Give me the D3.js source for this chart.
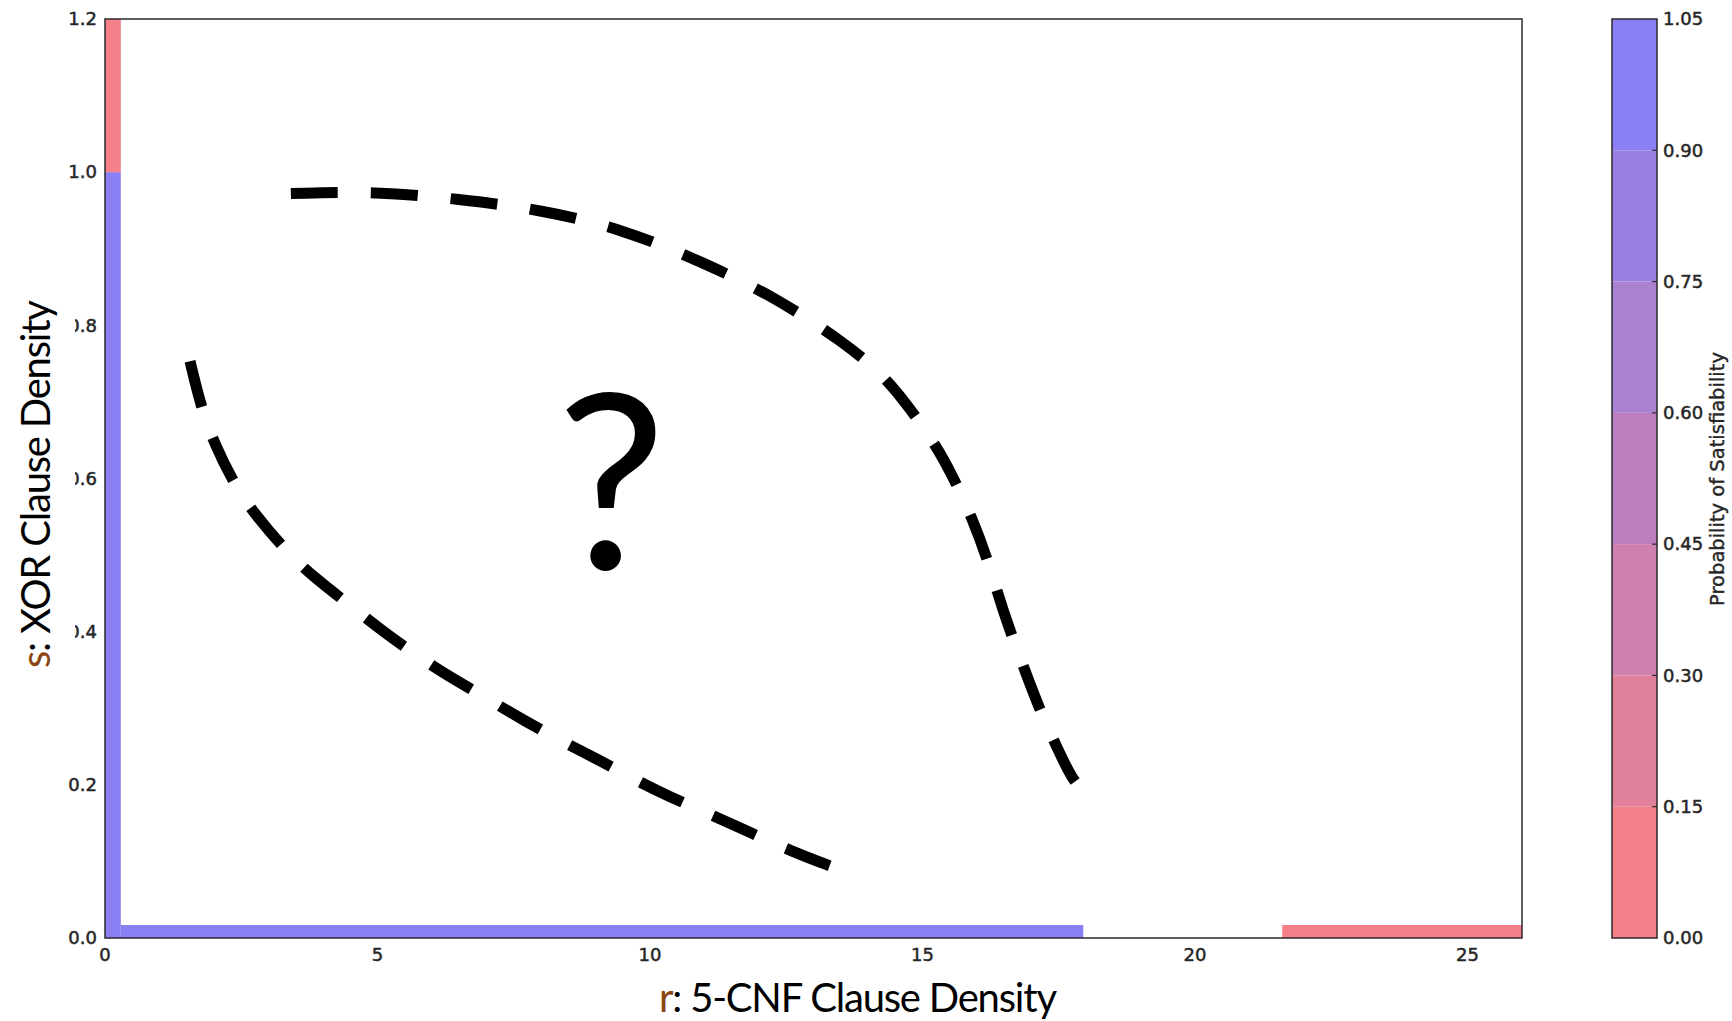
<!DOCTYPE html>
<html>
<head>
<meta charset="utf-8">
<script src="https://cdn.jsdelivr.net/npm/d3@7"></script>
<style>
  body { margin: 0; background: #fff; }
  svg { display: block; }
</style>
</head>
<body>
<div class="chart"></div>
<script>
// contour levels of the colour bar and their fills
const levels = [0, 0.15, 0.30, 0.45, 0.60, 0.75, 0.90, 1.05]
const levelColors = ["#F5808A", "#E1809B", "#D080AC", "#BC7EBE", "#AA80D0", "#9880E0", "#8A80F3"]

const xTicks = [0, 5, 10, 15, 20, 25]
const yTicks = [0, 0.2, 0.4, 0.6, 0.8, 1.0, 1.2]

// filled cells: r range, s range, probability of satisfiability
const cells = [
  {r0: 0, r1: 0.29, s0: 0, s1: 1.0, p: 1.0},
  {r0: 0, r1: 0.29, s0: 1.0, s1: 1.2, p: 0.0},
  {r0: 0.29, r1: 17.95, s0: 0, s1: 0.017, p: 1.0},
  {r0: 21.6, r1: 26, s0: 0, s1: 0.017, p: 0.0}
]

// hand drawn dashed boundaries, [r, s]
const outerCurve = [
  [3.41, 0.972], [4.97, 0.975], [6.49, 0.965], [8.01, 0.951], [9.53, 0.925],
  [10.95, 0.883], [12.27, 0.838], [13.58, 0.777], [14.29, 0.734], [14.70, 0.698],
  [15.21, 0.648], [15.55, 0.604], [15.92, 0.547], [16.22, 0.489], [16.52, 0.417],
  [16.83, 0.359], [17.13, 0.301], [17.50, 0.244], [17.74, 0.208], [17.98, 0.189]
]
const innerCurve = [
  [1.56, 0.753], [1.76, 0.694], [1.99, 0.648], [2.39, 0.590], [2.74, 0.554],
  [3.35, 0.503], [3.85, 0.470], [4.56, 0.431], [5.07, 0.402], [5.78, 0.366],
  [6.35, 0.340], [7.10, 0.309], [7.66, 0.285], [8.41, 0.256], [9.02, 0.234],
  [9.77, 0.205], [10.34, 0.185], [11.15, 0.160], [11.80, 0.139], [12.57, 0.114],
  [13.38, 0.092]
]
const questionAt = [9.29, 0.482]

const width = 1732
const height = 1021
const plot = {left: 105, top: 19, right: 1522, bottom: 938}
const bar = {left: 1612, right: 1657}

const x = d3.scaleLinear().domain([0, 26]).range([plot.left, plot.right])
const y = d3.scaleLinear().domain([0, 1.2]).range([plot.bottom, plot.top])
const yBar = d3.scaleLinear().domain([0, 1.05]).range([plot.bottom, plot.top])
const fill = d3.scaleThreshold().domain(levels.slice(1, -1)).range(levelColors)

const svg = d3.select(".chart").append("svg")
  .attr("width", width)
  .attr("height", height)

svg.append("rect").attr("width", width).attr("height", height).attr("fill", "#fff")

svg.selectAll("rect.cell")
  .data(cells)
  .enter()
  .append("rect")
  .attr("class", "cell")
  .attr("x", d => x(d.r0))
  .attr("y", d => y(d.s1))
  .attr("width", d => x(d.r1) - x(d.r0))
  .attr("height", d => y(d.s0) - y(d.s1))
  .attr("fill", d => fill(d.p))

// frame
svg.append("rect")
  .attr("x", plot.left).attr("y", plot.top)
  .attr("width", plot.right - plot.left).attr("height", plot.bottom - plot.top)
  .attr("fill", "none").attr("stroke", "#2a2a2a").attr("stroke-width", 1.5)

const tickFont = "'DejaVu Sans', sans-serif"
const tickInk = "#262626"

svg.selectAll("text.xt")
  .data(xTicks)
  .enter()
  .append("text")
  .attr("class", "xt")
  .attr("x", d => x(d))
  .attr("y", plot.bottom + 23)
  .attr("text-anchor", "middle")
  .attr("font-family", tickFont)
  .attr("font-size", "18px")
  .attr("fill", tickInk).attr("stroke", tickInk).attr("stroke-width", 0.5)
  .text(d => d)

svg.selectAll("text.yt")
  .data(yTicks)
  .enter()
  .append("text")
  .attr("class", "yt")
  .attr("x", plot.left - 8)
  .attr("y", d => y(d))
  .attr("dy", "0.35em")
  .attr("text-anchor", "end")
  .attr("font-family", tickFont)
  .attr("font-size", "18px")
  .attr("fill", tickInk).attr("stroke", tickInk).attr("stroke-width", 0.5)
  .text(d => d3.format(".1f")(d))

// dashed curves
const line = d3.line()
  .x(d => x(d[0]))
  .y(d => y(d[1]))
  .curve(d3.curveBasis)

svg.selectAll("path.bound")
  .data([outerCurve, innerCurve])
  .enter()
  .append("path")
  .attr("class", "bound")
  .attr("d", line)
  .attr("fill", "none")
  .attr("stroke", "#000")
  .attr("stroke-width", 11)
  .attr("stroke-dasharray", "47 33")

svg.append("text")
  .attr("x", x(questionAt[0]))
  .attr("y", y(questionAt[1]))
  .attr("text-anchor", "middle")
  .attr("font-family", "Lato, 'Open Sans', sans-serif")
  .attr("font-size", "245px")
  .attr("fill", "#000")
  .text("?")

// colour bar
const barBands = levelColors.map((c, i) => ({lo: levels[i], hi: levels[i + 1], c: c}))
svg.selectAll("rect.band")
  .data(barBands)
  .enter()
  .append("rect")
  .attr("class", "band")
  .attr("x", bar.left)
  .attr("y", d => yBar(d.hi))
  .attr("width", bar.right - bar.left)
  .attr("height", d => yBar(d.lo) - yBar(d.hi))
  .attr("fill", d => d.c)

svg.append("rect")
  .attr("x", bar.left).attr("y", plot.top)
  .attr("width", bar.right - bar.left).attr("height", plot.bottom - plot.top)
  .attr("fill", "none").attr("stroke", "#2a2a2a").attr("stroke-width", 1.5)

svg.selectAll("line.bt")
  .data(levels.slice(1, -1))
  .enter()
  .append("line")
  .attr("class", "bt")
  .attr("x1", bar.right - 5).attr("x2", bar.right)
  .attr("y1", d => yBar(d)).attr("y2", d => yBar(d))
  .attr("stroke", "#2a2a2a").attr("stroke-width", 1.2)

svg.selectAll("text.bl")
  .data(levels)
  .enter()
  .append("text")
  .attr("class", "bl")
  .attr("x", bar.right + 6)
  .attr("y", d => yBar(d))
  .attr("dy", "0.35em")
  .attr("font-family", tickFont)
  .attr("font-size", "18px")
  .attr("fill", tickInk).attr("stroke", tickInk).attr("stroke-width", 0.5)
  .text(d => d3.format(".2f")(d))

svg.append("text")
  .attr("transform", "translate(1724,479) rotate(-90)")
  .attr("text-anchor", "middle")
  .attr("font-family", tickFont)
  .attr("font-size", "19.5px")
  .attr("fill", tickInk).attr("stroke", tickInk).attr("stroke-width", 0.4)
  .text("Probability of Satisfiability")

// axis titles, pasted over the left tick labels
svg.append("rect")
  .attr("x", 0).attr("y", 280).attr("width", 75).attr("height", 385)
  .attr("fill", "#fff")

const titleFont = "Lato, 'Open Sans', sans-serif"
const brown = "#8B4513"

const yTitle = svg.append("text")
  .attr("transform", "translate(50,484) rotate(-90)")
  .attr("text-anchor", "middle")
  .attr("font-family", titleFont)
  .attr("font-size", "40px")
  .attr("fill", "#000")
  .attr("textLength", 368)
yTitle.append("tspan").attr("fill", brown).text("s")
yTitle.append("tspan").text(": XOR Clause Density")

const xTitle = svg.append("text")
  .attr("x", 858)
  .attr("y", 1012)
  .attr("text-anchor", "middle")
  .attr("font-family", titleFont)
  .attr("font-size", "40px")
  .attr("fill", "#000")
  .attr("textLength", 398)
xTitle.append("tspan").attr("fill", brown).text("r")
xTitle.append("tspan").text(": 5-CNF Clause Density")
</script>
</body>
</html>
